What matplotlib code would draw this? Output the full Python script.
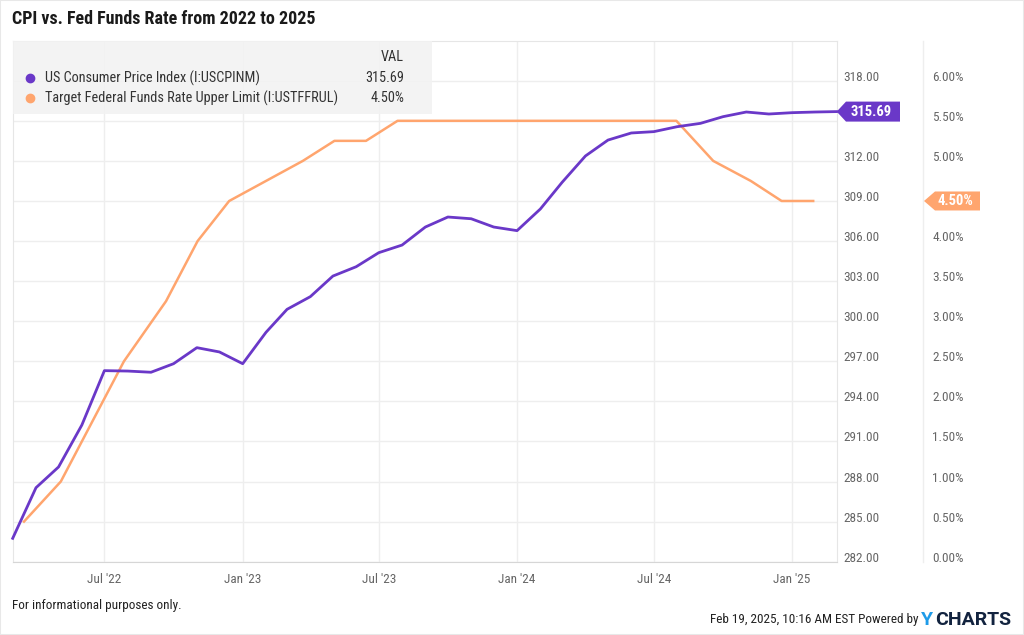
import matplotlib
matplotlib.use("Agg")
import numpy as np
import pandas as pd
import matplotlib.dates as mdates
from matplotlib import pyplot as plt
from matplotlib.patches import Polygon, Rectangle
from matplotlib.lines import Line2D

plt.rcParams["font.family"] = ["Roboto Condensed", "DejaVu Sans"]

# CPI, monthly points
cpi_dates = pd.date_range("2022-03-01", "2025-03-01", freq="MS")
cpi_values = [283.75, 287.54, 289.09, 292.23, 296.30, 296.27, 296.18, 296.82, 298.02, 297.70,
              296.82, 299.17, 300.89, 301.84, 303.38, 304.08, 305.13, 305.70, 307.05, 307.80,
              307.67, 307.05, 306.78, 308.40, 310.40, 312.37, 313.56, 314.09, 314.19, 314.56,
              314.81, 315.31, 315.66, 315.51, 315.61, 315.66, 315.69]

# Fed funds upper limit, FOMC decision dates
ff_dates = pd.to_datetime(["2022-03-16", "2022-05-04", "2022-06-15", "2022-07-27", "2022-09-21",
                           "2022-11-02", "2022-12-14", "2023-02-01", "2023-03-22", "2023-05-03",
                           "2023-06-14", "2023-07-26", "2023-09-20", "2023-11-01", "2023-12-13",
                           "2024-01-31", "2024-03-20", "2024-05-01", "2024-06-12", "2024-07-31",
                           "2024-09-18", "2024-11-07", "2024-12-18", "2025-01-29"])
ff_values = [0.50, 1.00, 1.75, 2.50, 3.25, 4.00, 4.50, 4.75, 5.00, 5.25,
             5.25, 5.50, 5.50, 5.50, 5.50, 5.50, 5.50, 5.50, 5.50, 5.50,
             5.00, 4.75, 4.50, 4.50]

cpi_ticks = np.arange(282, 319, 3)
pct_ticks = np.arange(0, 6.01, 0.5)
x_ticks = pd.to_datetime(["2022-07-01", "2023-01-01", "2023-07-01", "2024-01-01", "2024-07-01", "2025-01-01"])
x_labels = ["Jul '22", "Jan '23", "Jul '23", "Jan '24", "Jul '24", "Jan '25"]

cpi_name = "US Consumer Price Index (I:USCPINM)"
ff_name = "Target Federal Funds Rate Upper Limit (I:USTFFRUL)"

PURPLE = "#6a38c8"
ORANGE = "#ffa56e"
GRID = "#eeeeee"
TICK = "#666666"

W, H = 1024, 635
fig = plt.figure(figsize=(W / 100, H / 100), dpi=100)


def fx(x):
    return x / W


def fy(y):
    return 1 - y / H


left, right, top, bottom = 12.7, 836.5, 40.7, 561.7
ax2 = fig.add_axes([fx(left), fy(bottom), fx(right - left), (bottom - top) / H])
ax = ax2.twinx()
ax.set_zorder(ax2.get_zorder() + 1)
ax.patch.set_visible(False)

ymax = 282 + (bottom - top) / 40.08 * 3
ax.set_ylim(282, ymax)
ax2.set_ylim(0, (ymax - 282) / 6)
ax2.set_xlim(pd.Timestamp("2022-03-01"), pd.Timestamp("2025-03-01"))

ax.plot(cpi_dates, cpi_values, color=PURPLE, lw=2.0, solid_joinstyle="round", clip_on=False)
ax2.plot(ff_dates, ff_values, color=ORANGE, lw=1.8, solid_joinstyle="round")

# grid and axes
ax2.set_yticks(pct_ticks)
ax2.set_yticklabels([f"{v:.2f}%" for v in pct_ticks])
ax2.set_xticks(x_ticks)
ax2.set_xticklabels(x_labels)
ax2.grid(True, color=GRID, lw=1)
ax2.yaxis.tick_right()
ax2.tick_params(axis="y", length=0, pad=69, labelsize=9.5, labelcolor=TICK)
ax2.tick_params(axis="x", length=0, pad=8, labelsize=9.5, labelcolor=TICK)
for lab in ax2.get_yticklabels():
    lab.set_verticalalignment("baseline")

# 315.00 sits under the value tag in the original, so it stays blank
ax.set_yticks(cpi_ticks)
ax.set_yticklabels(["" if v == 315 else f"{v:.2f}" for v in cpi_ticks])
ax.tick_params(axis="y", length=0, pad=5, labelsize=9.5, labelcolor=TICK)
for lab in ax.get_yticklabels():
    lab.set_verticalalignment("baseline")

for a in (ax, ax2):
    for s in a.spines.values():
        s.set_visible(False)
for name in ("left", "right", "top"):
    ax2.spines[name].set_visible(True)
    ax2.spines[name].set_color("#e6e6e6")
ax2.spines["bottom"].set_visible(True)
ax2.spines["bottom"].set_color("#d6d6d6")

# divider between the two value scales
fig.add_artist(Line2D([fx(923), fx(923)], [fy(top), fy(bottom)], color="#eeeeee", lw=1))

# legend box
fig.add_artist(Rectangle((fx(left), fy(114)), fx(432 - left), (114 - top) / H,
                         facecolor="#f2f2f2", edgecolor="none", alpha=0.85, zorder=5))
fig.text(fx(404), fy(57), "VAL", ha="right", va="center", fontsize=10.3, color="#333333", zorder=6)
for yy, col, name, val in [(78, PURPLE, cpi_name, f"{cpi_values[-1]:.2f}"),
                           (98, ORANGE, ff_name, f"{ff_values[-1]:.2f}%")]:
    fig.add_artist(Line2D([fx(30)], [fy(yy)], marker="o", ms=6, color=col, zorder=6))
    fig.text(fx(45), fy(yy), name, ha="left", va="center", fontsize=10.3, color="#333333", zorder=6)
    fig.text(fx(404), fy(yy), val, ha="right", va="center", fontsize=10.3, color="#333333", zorder=6)


# end-value tags
def tag(tip_x, y, box_x0, box_x1, h, color, text):
    pts = [(tip_x, y), (box_x0, y - h / 2), (box_x1, y - h / 2), (box_x1, y + h / 2), (box_x0, y + h / 2)]
    fig.add_artist(Polygon([(fx(px), fy(py)) for px, py in pts], closed=True,
                           facecolor=color, edgecolor="none", zorder=7))
    fig.text(fx((box_x0 + box_x1) / 2 - 2), fy(y), text, ha="center", va="center",
             fontsize=10.5, fontweight="bold", color="white", zorder=8)


fig.canvas.draw()
_, py_cpi = ax.transData.transform((mdates.date2num(cpi_dates[-1]), cpi_values[-1]))
_, py_ff = ax2.transData.transform((mdates.date2num(ff_dates[-1]), ff_values[-1]))
tag(836.7, H - py_cpi, 846, 900, 20, PURPLE, f"{cpi_values[-1]:.2f}")
tag(924, H - py_ff, 935, 980, 19, ORANGE, f"{ff_values[-1]:.2f}%")

# title and footer
fig.text(fx(12), fy(19), "CPI vs. Fed Funds Rate from 2022 to 2025", ha="left", va="center",
         fontsize=13, fontweight="bold", color="#1a1a1a")
fig.text(fx(12), fy(606), "For informational purposes only.", ha="left", va="center",
         fontsize=9.5, color="#222222")
fig.text(fx(918), fy(620), "Feb 19, 2025, 10:16 AM EST Powered by", ha="right", va="center",
         fontsize=9.5, color="#222222")
fig.text(fx(921), fy(620), "Y", ha="left", va="center", fontsize=14, fontweight="bold",
         color="#1e9be9", family=["Roboto", "DejaVu Sans"])
fig.text(fx(935), fy(620), "CHARTS", ha="left", va="center", fontsize=14, fontweight="bold",
         color="#12233f", family=["Roboto", "DejaVu Sans"])

fig.add_artist(Rectangle((0, 0), 1, 1, fill=False, edgecolor="#e8e8e8", lw=1.5))

fig.savefig("out.png", dpi=100)
